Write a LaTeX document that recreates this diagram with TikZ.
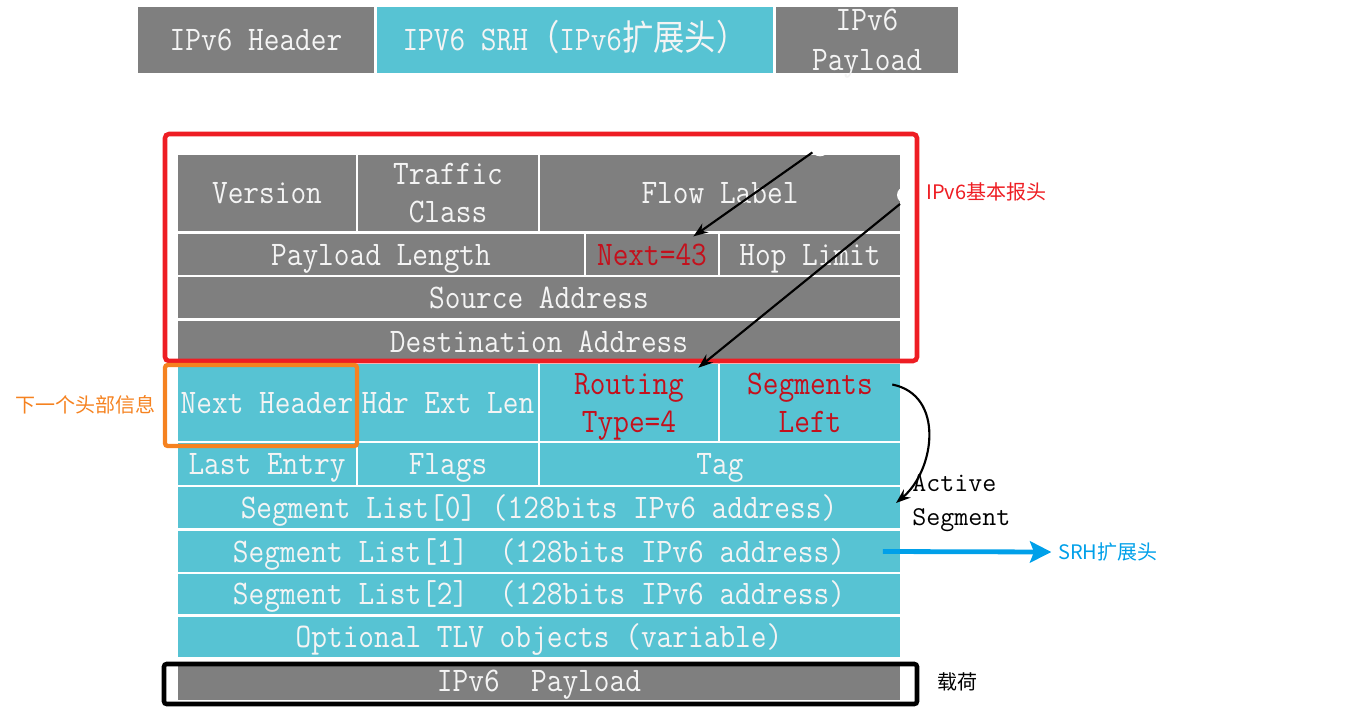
\documentclass[tikz,border=0pt]{standalone}
\usepackage{fontspec}
\usepackage{graphicx}
\newfontfamily\cjk{Noto Sans CJK SC}
\usetikzlibrary{arrows.meta,calc}
\definecolor{cgray}{HTML}{7F7F7F}
\definecolor{ccyan}{HTML}{57C3D3}
\definecolor{cred}{HTML}{C4101C}
\definecolor{boxred}{HTML}{EE1D23}
\definecolor{corange}{HTML}{F58220}
\definecolor{cblue}{HTML}{00A0E9}
\definecolor{ctxt}{HTML}{F4F4F4}
% one line of text, H-height centred on the node centre, no size of its own
\newcommand\vsr[2]{\raisebox{\dimexpr #1-0.565\fontcharht\font`H\relax}{\scalebox{1}[1.13]{#2}}}
\newcommand\vs[1]{\smash{\makebox[0pt]{\vsr{0pt}{#1}}}}
\newcommand\twol[3][14.25pt]{\smash{\makebox[0pt]{\vsr{#1}{#2}}\makebox[0pt]{\vsr{-#1}{#3}}}}
\newcommand\cjkbig{\cjk\fontsize{23.5}{24}\selectfont}
\newcommand\cellbox[7]{\node[#6,minimum width={(#4-#2)*0.75pt},minimum height={(#5-#3)*0.75pt}] (#1) at ({(#2+#4)/2},{(#3+#5)/2}) {#7};}
\tikzset{
  base/.style={inner sep=0pt, font=\ttfamily\fontsize{22.86}{26}\selectfont, text=ctxt},
  gcell/.style={base, fill=cgray},
  ccell/.style={base, fill=ccyan},
  rtxt/.style={text=cred},
  lbl/.style={font=\cjk\fontsize{15}{18}\selectfont, inner sep=0pt},
  blk/.style={line width=1.6pt, -{Stealth[length=11pt,width=8pt]}},
}
\begin{document}
\begin{tikzpicture}[x=0.75pt,y=-0.75pt]
\useasboundingbox (0,0) rectangle (1354,715);
% top bar
\cellbox{th}{138}{7}{374}{73}{gcell}{\vs{IPv6 Header}}
\cellbox{tsrh}{377}{7}{773}{73}{ccell}{\vs{IPV6 SRH{\cjkbig （}IPv6{\cjkbig 扩展头）}}}
\cellbox{tpay}{776}{7}{958}{73}{gcell}{\twol[15pt]{IPv6}{Payload}}
% IPv6 basic header
\cellbox{ver}{178}{155}{356}{231}{gcell}{\vs{Version}}
\cellbox{tc}{358}{155}{538}{231}{gcell}{\twol{Traffic}{Class}}
\cellbox{fl}{540}{155}{900}{231}{gcell}{\vs{Flow Label}}
\cellbox{pl}{178}{234}{584}{275}{gcell}{\vs{Payload Length}}
\cellbox{nxt}{586}{234}{718}{275}{gcell,rtxt}{\vs{Next=43}}
\cellbox{hop}{720}{234}{900}{275}{gcell}{\vs{Hop Limit}}
\cellbox{src}{178}{277}{900}{318}{gcell}{\vs{Source Address}}
\cellbox{dst}{178}{321}{900}{362}{gcell}{\vs{Destination Address}}
% SRH
\cellbox{nh}{178}{364}{356}{441}{ccell}{\vs{Next Header}}
\cellbox{hel}{358}{364}{538}{441}{ccell}{\vs{Hdr Ext Len}}
\cellbox{rt}{540}{364}{718}{441}{ccell,rtxt}{\twol{Routing}{Type=4}}
\cellbox{sl}{720}{364}{900}{441}{ccell,rtxt}{\twol{Segments}{Left}}
\cellbox{le}{178}{443}{356}{485}{ccell}{\vs{Last Entry}}
\cellbox{flg}{358}{443}{538}{485}{ccell}{\vs{Flags}}
\cellbox{tag}{540}{443}{900}{485}{ccell}{\vs{Tag}}
\cellbox{s0}{178}{487}{900}{528}{ccell}{\vs{Segment List[0] (128bits IPv6 address)}}
\cellbox{s1}{178}{531}{900}{572}{ccell}{\vs{Segment List[1]\ \ (128bits IPv6 address)}}
\cellbox{s2}{178}{574}{900}{614}{ccell}{\vs{Segment List[2]\ \ (128bits IPv6 address)}}
\cellbox{tlv}{178}{617}{900}{657}{ccell}{\vs{Optional TLV objects (variable)}}
\cellbox{pay}{178}{662}{900}{700}{gcell}{\vs{IPv6\ \ Payload}}
% frames
\draw[boxred, line width=3.4pt, rounded corners=3pt] (165,134) rectangle (917,361);
\draw[corange, line width=3.2pt, rounded corners=2pt] (165,365) rectangle (357,446);
\draw[black, line width=3.4pt, rounded corners=2pt] (164,664) rectangle (917,704);
% labels
\node[lbl, text=boxred, anchor=west] (lb1) at (926,192) {IPv6基本报头};
\node[lbl, text=corange, anchor=east] (lb2) at (156,405) {下一个头部信息};
\node[lbl, text=cblue, anchor=west] (lb3) at (1058,552) {SRH扩展头};
\node[lbl, anchor=west] (lb4) at (937,682) {载荷};
\node[font=\ttfamily\fontsize{20.4}{25}\selectfont, align=left, anchor=west, inner sep=0pt] (act) at (912,503) {Active\\Segment};
% arrows
\coordinate (a1) at (813,152);
\coordinate (a2) at (900,204);
\draw[blk] (a1) -- ([xshift=31pt,yshift=-2pt]nxt.north);
\draw[blk] (a2) -- ([xshift=-15pt,yshift=-3pt]rt.north east);
\draw[blk] ([xshift=-6pt,yshift=13.5pt]sl.east) .. controls (945,395) and (935,470) .. ([xshift=-12pt]act.west);
\draw[cblue, line width=3.6pt, -{Stealth[length=16pt,width=16pt,inset=3pt]}] ([xshift=-13pt]s1.east) -- ([xshift=-5pt]lb3.west);
\fill[white] (820,147) circle[radius=7pt];
\fill[white] (905,195) circle[radius=6pt];
\end{tikzpicture}
\end{document}
